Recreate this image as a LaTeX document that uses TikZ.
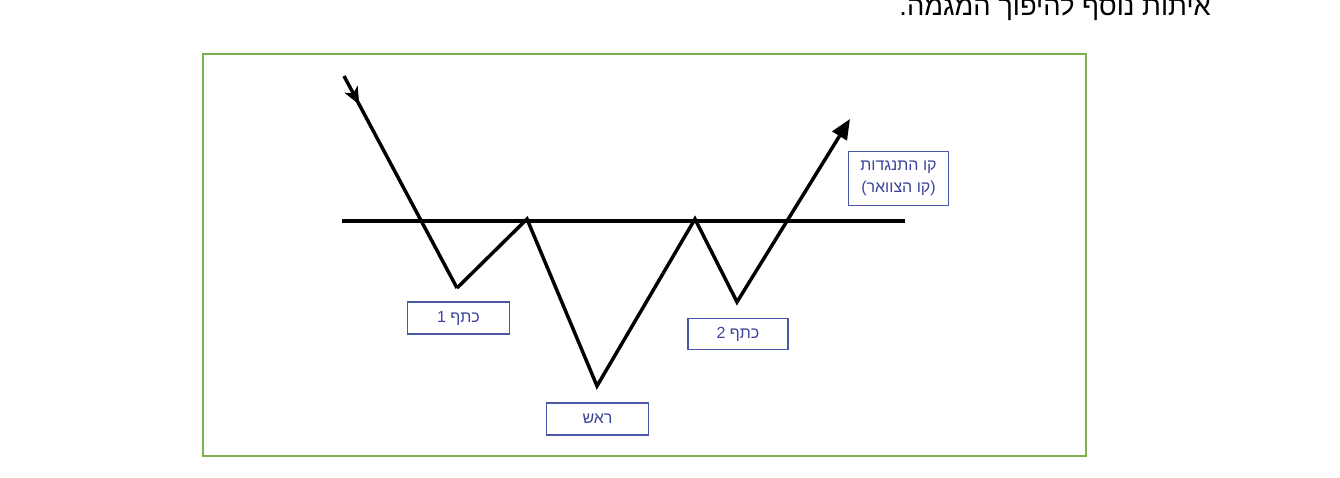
\documentclass[tikz,border=0pt]{standalone}
\usepackage{fontspec}
\setmainfont{Liberation Sans}
\newfontfamily\hebfont[Script=Hebrew]{Liberation Sans}
\TeXXeTstate=1
\usetikzlibrary{arrows.meta,decorations.markings}
\definecolor{framegreen}{HTML}{7AB24E}
\definecolor{boxblue}{HTML}{4A57A8}
\definecolor{textblue}{HTML}{3B4399}
\tikzset{
  lbl/.style={draw=boxblue, line width=0.9pt, text=textblue, font=\hebfont\fontsize{12}{16.5}\selectfont, inner sep=0pt, align=center},
  price/.style={line width=2.6pt, line join=miter},
}
\begin{document}
\begin{tikzpicture}[x=0.75pt,y=-0.75pt]
\useasboundingbox (0,0) rectangle (1340,478);
% top text (partially cut, as in the reference)
\node[anchor=base east, font=\hebfont\fontsize{20.5}{23}\selectfont, inner sep=0pt] (title) at (1211,15.5) {\beginR איתות נוסף להיפוך המגמה.\endR};
% frame
\draw[framegreen, line width=1.7pt] (203,54) rectangle (1086,456);
% neckline
\coordinate (nl0) at (342,221);
\coordinate (nl1) at (905,221);
\draw[line width=2.4pt] (nl0) -- (nl1);
% price path
\coordinate (p0) at (344,76);
\coordinate (p1) at (457,288);
\coordinate (p2) at (527,219);
\coordinate (p3) at (597,386);
\coordinate (p4) at (695,219);
\coordinate (p5) at (737,302);
\coordinate (p6) at (850,119);
\draw[price, postaction={decorate}, decoration={markings, mark=at position 0.135 with {\arrow{Stealth[length=13pt,width=11pt,inset=3.5pt]}}}] (p0) -- (p1);
\draw[price, -{Triangle[length=15pt,width=12.5pt]}] (p1) -- (p2) -- (p3) -- (p4) -- (p5) -- (p6);
% labels
\node[lbl, minimum width=76pt, minimum height=24pt] (sh1) at (458.5,318) {\beginR כתף 1\endR};
\node[lbl, minimum width=76pt, minimum height=24pt] (head) at (597.5,419) {\beginR ראש\endR};
\node[lbl, minimum width=75pt, minimum height=23pt] (sh2) at (738,334) {\beginR כתף 2\endR};
\node[lbl, minimum width=75.5pt, minimum height=41pt] (res) at (898.5,178.5) {\beginR קו התנגדות\endR\\\beginR (קו הצוואר)\endR};
\end{tikzpicture}
\end{document}
